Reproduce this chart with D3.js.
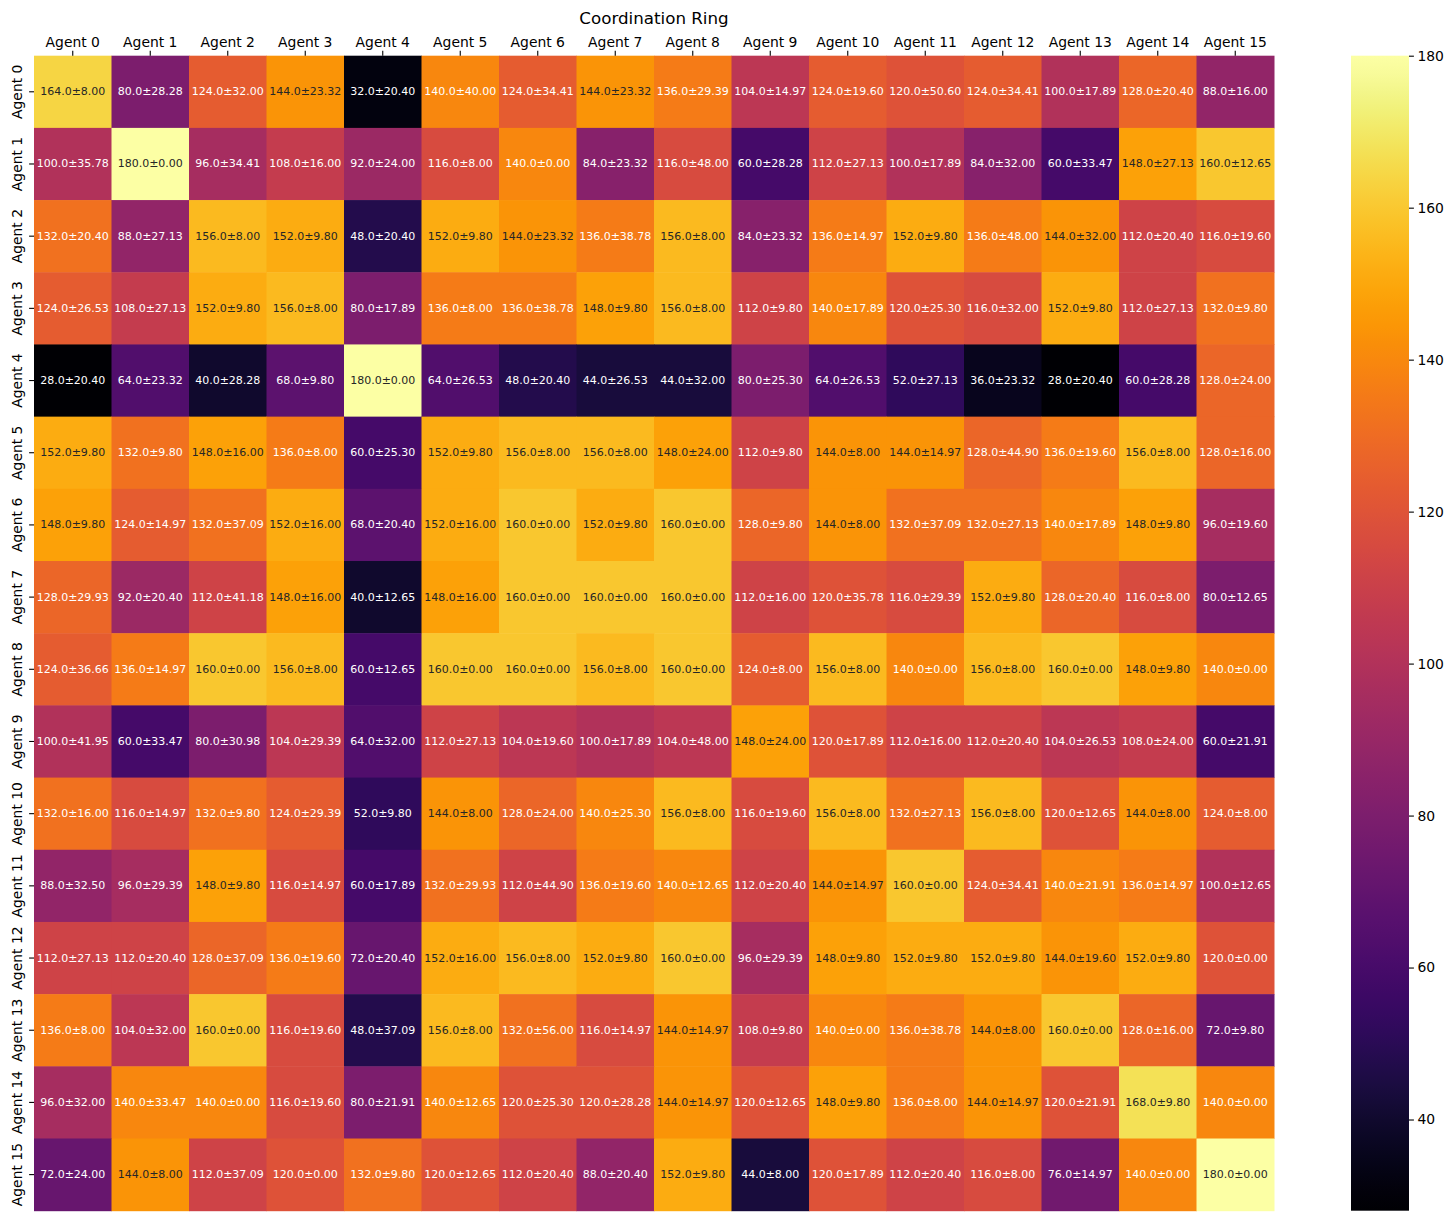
<!DOCTYPE html>
<html>
<head>
<meta charset="utf-8">
<script src="https://cdn.jsdelivr.net/npm/d3@7"></script>
<style>
  body { margin: 0; background: #fff; }
  text { font-family: "DejaVu Sans", sans-serif; }
</style>
</head>
<body>
<svg id="chart" width="1455" height="1221"></svg>
<script>
// agent labels
const agents = d3.range(16).map(i => `Agent ${i}`);

// mean reward per (row agent, column agent)
const means = [
  [164, 80, 124, 144, 32, 140, 124, 144, 136, 104, 124, 120, 124, 100, 128, 88],
  [100, 180, 96, 108, 92, 116, 140, 84, 116, 60, 112, 100, 84, 60, 148, 160],
  [132, 88, 156, 152, 48, 152, 144, 136, 156, 84, 136, 152, 136, 144, 112, 116],
  [124, 108, 152, 156, 80, 136, 136, 148, 156, 112, 140, 120, 116, 152, 112, 132],
  [28, 64, 40, 68, 180, 64, 48, 44, 44, 80, 64, 52, 36, 28, 60, 128],
  [152, 132, 148, 136, 60, 152, 156, 156, 148, 112, 144, 144, 128, 136, 156, 128],
  [148, 124, 132, 152, 68, 152, 160, 152, 160, 128, 144, 132, 132, 140, 148, 96],
  [128, 92, 112, 148, 40, 148, 160, 160, 160, 112, 120, 116, 152, 128, 116, 80],
  [124, 136, 160, 156, 60, 160, 160, 156, 160, 124, 156, 140, 156, 160, 148, 140],
  [100, 60, 80, 104, 64, 112, 104, 100, 104, 148, 120, 112, 112, 104, 108, 60],
  [132, 116, 132, 124, 52, 144, 128, 140, 156, 116, 156, 132, 156, 120, 144, 124],
  [88, 96, 148, 116, 60, 132, 112, 136, 140, 112, 144, 160, 124, 140, 136, 100],
  [112, 112, 128, 136, 72, 152, 156, 152, 160, 96, 148, 152, 152, 144, 152, 120],
  [136, 104, 160, 116, 48, 156, 132, 116, 144, 108, 140, 136, 144, 160, 128, 72],
  [96, 140, 140, 116, 80, 140, 120, 120, 144, 120, 148, 136, 144, 120, 168, 140],
  [72, 144, 112, 120, 132, 120, 112, 88, 152, 44, 120, 112, 116, 76, 140, 180]
];

// standard deviations
const stds = [
  [8.00, 28.28, 32.00, 23.32, 20.40, 40.00, 34.41, 23.32, 29.39, 14.97, 19.60, 50.60, 34.41, 17.89, 20.40, 16.00],
  [35.78, 0.00, 34.41, 16.00, 24.00, 8.00, 0.00, 23.32, 48.00, 28.28, 27.13, 17.89, 32.00, 33.47, 27.13, 12.65],
  [20.40, 27.13, 8.00, 9.80, 20.40, 9.80, 23.32, 38.78, 8.00, 23.32, 14.97, 9.80, 48.00, 32.00, 20.40, 19.60],
  [26.53, 27.13, 9.80, 8.00, 17.89, 8.00, 38.78, 9.80, 8.00, 9.80, 17.89, 25.30, 32.00, 9.80, 27.13, 9.80],
  [20.40, 23.32, 28.28, 9.80, 0.00, 26.53, 20.40, 26.53, 32.00, 25.30, 26.53, 27.13, 23.32, 20.40, 28.28, 24.00],
  [9.80, 9.80, 16.00, 8.00, 25.30, 9.80, 8.00, 8.00, 24.00, 9.80, 8.00, 14.97, 44.90, 19.60, 8.00, 16.00],
  [9.80, 14.97, 37.09, 16.00, 20.40, 16.00, 0.00, 9.80, 0.00, 9.80, 8.00, 37.09, 27.13, 17.89, 9.80, 19.60],
  [29.93, 20.40, 41.18, 16.00, 12.65, 16.00, 0.00, 0.00, 0.00, 16.00, 35.78, 29.39, 9.80, 20.40, 8.00, 12.65],
  [36.66, 14.97, 0.00, 8.00, 12.65, 0.00, 0.00, 8.00, 0.00, 8.00, 8.00, 0.00, 8.00, 0.00, 9.80, 0.00],
  [41.95, 33.47, 30.98, 29.39, 32.00, 27.13, 19.60, 17.89, 48.00, 24.00, 17.89, 16.00, 20.40, 26.53, 24.00, 21.91],
  [16.00, 14.97, 9.80, 29.39, 9.80, 8.00, 24.00, 25.30, 8.00, 19.60, 8.00, 27.13, 8.00, 12.65, 8.00, 8.00],
  [32.50, 29.39, 9.80, 14.97, 17.89, 29.93, 44.90, 19.60, 12.65, 20.40, 14.97, 0.00, 34.41, 21.91, 14.97, 12.65],
  [27.13, 20.40, 37.09, 19.60, 20.40, 16.00, 8.00, 9.80, 0.00, 29.39, 9.80, 9.80, 9.80, 19.60, 9.80, 0.00],
  [8.00, 32.00, 0.00, 19.60, 37.09, 8.00, 56.00, 14.97, 14.97, 9.80, 0.00, 38.78, 8.00, 0.00, 16.00, 9.80],
  [32.00, 33.47, 0.00, 19.60, 21.91, 12.65, 25.30, 28.28, 14.97, 12.65, 9.80, 8.00, 14.97, 21.91, 9.80, 0.00],
  [24.00, 8.00, 37.09, 0.00, 9.80, 12.65, 20.40, 20.40, 9.80, 8.00, 17.89, 20.40, 8.00, 14.97, 0.00, 0.00]
];

const colorTicks = [40, 60, 80, 100, 120, 140, 160, 180];
const title = "Coordination Ring";

const svg = d3.select("#chart");
const box = {left: 34, right: 1274, top: 55.7, bottom: 1210.7};
const cbLeft = 1351, cbWidth = 58;

const vmin = d3.min(means.flat()), vmax = d3.max(means.flat());
const color = d3.scaleSequential(d3.interpolateInferno).domain([vmin, vmax]);

const x = d3.scaleBand().domain(agents).range([box.left, box.right]);
const y = d3.scaleBand().domain(agents).range([box.top, box.bottom]);

// seaborn picks the annotation colour from the cell luminance
function luminance(c) {
  const rgb = d3.rgb(c);
  const lin = v => {
    v /= 255;
    return v <= 0.03928 ? v / 12.92 : Math.pow((v + 0.055) / 1.055, 2.4);
  };
  return 0.2126 * lin(rgb.r) + 0.7152 * lin(rgb.g) + 0.0722 * lin(rgb.b);
}

const cells = means.flatMap((row, i) => row.map((m, j) => ({
  row: agents[i], col: agents[j], mean: m, std: stds[i][j]
})));

const cell = svg.append("g").selectAll("g")
  .data(cells)
  .join("g");

cell.append("rect")
  .attr("x", d => x(d.col))
  .attr("y", d => y(d.row))
  .attr("width", x.bandwidth() + 0.5)
  .attr("height", y.bandwidth() + 0.5)
  .attr("fill", d => color(d.mean));

cell.append("text")
  .attr("x", d => x(d.col) + x.bandwidth() / 2)
  .attr("y", d => y(d.row) + y.bandwidth() / 2)
  .attr("text-anchor", "middle")
  .attr("dominant-baseline", "central")
  .attr("font-size", 11)
  .attr("fill", d => luminance(color(d.mean)) > 0.408 ? "#262626" : "#fff")
  .text(d => `${d.mean.toFixed(1)}±${d.std.toFixed(2)}`);

// x axis on top
const xAxis = svg.append("g")
  .attr("transform", `translate(0,${box.top})`)
  .call(d3.axisTop(x).tickSize(4.9).tickPadding(3.5));
xAxis.select(".domain").remove();
xAxis.selectAll("text").attr("font-size", 13.9).attr("fill", "#000")
  .style("font-family", "DejaVu Sans");
xAxis.selectAll("line").attr("stroke", "#000").attr("stroke-width", 1.1);

// y axis on left, rotated labels
const yAxis = svg.append("g")
  .attr("transform", `translate(${box.left},0)`)
  .call(d3.axisLeft(y).tickSize(4.9).tickPadding(3.5));
yAxis.select(".domain").remove();
yAxis.selectAll("line").attr("stroke", "#000").attr("stroke-width", 1.1);
yAxis.selectAll("text")
  .attr("font-size", 13.9).attr("fill", "#000")
  .style("font-family", "DejaVu Sans")
  .attr("text-anchor", "middle")
  .attr("dy", 0)
  .attr("x", 0)
  .attr("transform", "translate(-12.5,0) rotate(-90)");

// title
svg.append("text")
  .attr("x", (box.left + box.right) / 2)
  .attr("y", 24)
  .attr("text-anchor", "middle")
  .attr("font-size", 16.7)
  .attr("fill", "#000")
  .text(title);

// colorbar
const grad = svg.append("defs").append("linearGradient")
  .attr("id", "cbar")
  .attr("x1", 0).attr("y1", 1).attr("x2", 0).attr("y2", 0);
grad.selectAll("stop")
  .data(d3.range(0, 1.0001, 1 / 64))
  .join("stop")
  .attr("offset", t => t)
  .attr("stop-color", t => d3.interpolateInferno(t));

svg.append("rect")
  .attr("x", cbLeft).attr("y", box.top)
  .attr("width", cbWidth).attr("height", box.bottom - box.top)
  .attr("fill", "url(#cbar)");

const cy = d3.scaleLinear().domain([vmin, vmax]).range([box.bottom, box.top]);
const cAxis = svg.append("g")
  .attr("transform", `translate(${cbLeft + cbWidth},0)`)
  .call(d3.axisRight(cy).tickValues(colorTicks).tickSize(4.9).tickPadding(3.5));
cAxis.select(".domain").remove();
cAxis.selectAll("line").attr("stroke", "#000").attr("stroke-width", 1.1);
cAxis.selectAll("text").attr("font-size", 13.9).attr("fill", "#000")
  .style("font-family", "DejaVu Sans");
</script>
</body>
</html>
